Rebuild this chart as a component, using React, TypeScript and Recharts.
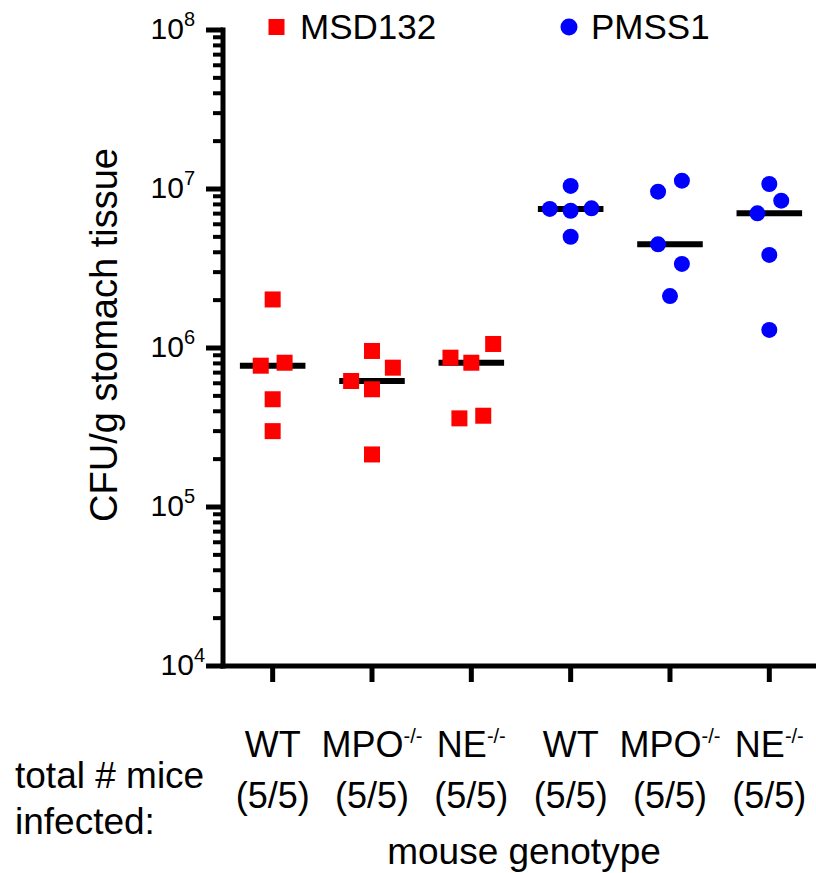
import React from 'react';
import { ScatterChart, Scatter, XAxis, YAxis, ReferenceLine, Customized } from 'recharts';

// ---- data ----
const seriesNames = ['MSD132', 'PMSS1'];
const seriesColors = ['#ff0000', '#0000ff'];
const groupLabels = ['WT', 'MPO', 'NE', 'WT', 'MPO', 'NE'];
const groupSuperscripts = ['', '-/-', '-/-', '', '-/-', '-/-'];
const infectedCounts = ['(5/5)', '(5/5)', '(5/5)', '(5/5)', '(5/5)', '(5/5)'];
const majorTicks = [1e4, 1e5, 1e6, 1e7, 1e8];
const minorMultipliers = [2, 3, 4, 5, 6, 7, 8, 9];

// CFU/g values per genotype group (MSD132: groups 0-2, PMSS1: groups 3-5)
const msd132Values = [
  [2.02e6, 7.74e5, 8.08e5, 4.76e5, 3.0e5],
  [6.2e5, 9.58e5, 7.52e5, 5.5e5, 2.14e5],
  [8.69e5, 8.08e5, 1.06e6, 3.61e5, 3.75e5],
];
const msd132Jitter = [
  [0, -0.12, 0.12, 0, 0],
  [-0.21, 0, 0.21, 0, 0],
  [-0.21, 0, 0.22, -0.12, 0.12],
];
const pmss1Values = [
  [1.045e7, 7.49e6, 7.3e6, 7.56e6, 5.01e6],
  [9.62e6, 1.128e7, 4.49e6, 3.38e6, 2.12e6],
  [1.075e7, 8.45e6, 7.03e6, 3.85e6, 1.3e6],
];
const pmss1Jitter = [
  [0, -0.21, 0, 0.21, 0],
  [-0.12, 0.12, -0.12, 0.12, 0],
  [0, 0.12, -0.12, 0, 0],
];

// ---- derived ----
const minorTicks = majorTicks.slice(0, -1).flatMap((d) => minorMultipliers.map((m) => m * d));
const allYTicks = [...majorTicks, ...minorTicks].sort((a, b) => a - b);

const buildPoints = (values: number[][], jitter: number[][], offset: number) =>
  values.flatMap((grp, g) => grp.map((v, k) => ({ x: g + offset + jitter[g][k], y: v })));

const median = (arr: number[]) => {
  const s = [...arr].sort((a, b) => a - b);
  return s[Math.floor(s.length / 2)];
};

const msdPoints = buildPoints(msd132Values, msd132Jitter, 0);
const pmsPoints = buildPoints(pmss1Values, pmss1Jitter, 3);
const medians = [...msd132Values, ...pmss1Values].map((g, i) => ({ x: i, y: median(g) }));

const FONT = '"Liberation Sans", Arial, Helvetica, sans-serif';
const MEDIAN_HALF = 0.33;

const SquareShape = (props: any) => {
  const { cx, cy } = props;
  return <rect x={cx - 8} y={cy - 8} width={16} height={16} fill={seriesColors[0]} />;
};
const CircleShape = (props: any) => {
  const { cx, cy } = props;
  return <circle cx={cx} cy={cy} r={8} fill={seriesColors[1]} />;
};

const YTick = (props: any) => {
  const { x, y, payload } = props;
  const v = payload.value;
  const isMajor = majorTicks.some((m) => Math.abs(m - v) / m < 1e-9);
  const len = isMajor ? 17 : 10;
  const exp = Math.round(Math.log10(v));
  const labelDx = v === majorTicks[0] ? 18 : 28;
  return (
    <g>
      <line x1={x} x2={x - len} y1={y} y2={y} stroke="#000" strokeWidth={isMajor ? 5 : 4} />
      {isMajor && (
        <text x={x - labelDx} y={y + 9} textAnchor="end" fontSize={30} fill="#000" fontFamily={FONT}>
          10
          <tspan dy={-13} fontSize={20}>
            {exp}
          </tspan>
        </text>
      )}
    </g>
  );
};

const XTick = (props: any) => {
  const { x, y, payload } = props;
  const i = Math.round(payload.value);
  const sup = groupSuperscripts[i];
  return (
    <g>
      <text x={x} y={y + 75} textAnchor="middle" fontSize={36} fill="#000" fontFamily={FONT}>
        {groupLabels[i]}
        {sup ? (
          <tspan dy={-14} fontSize={20}>
            {sup}
          </tspan>
        ) : null}
      </text>
      <text x={x} y={y + 126} textAnchor="middle" fontSize={36} fill="#000" fontFamily={FONT}>
        {infectedCounts[i]}
      </text>
    </g>
  );
};

const Overlay = () => (
  <g fontFamily={FONT} fill="#000">
    <rect x={268.5} y={19} width={16} height={16} fill={seriesColors[0]} />
    <text x={300} y={39} fontSize={35}>
      {seriesNames[0]}
    </text>
    <circle cx={569} cy={27} r={8.5} fill={seriesColors[1]} />
    <text x={591} y={39} fontSize={35}>
      {seriesNames[1]}
    </text>
    <text transform="rotate(-90)" x={-335} y={117} textAnchor="middle" fontSize={38}>
      CFU/g stomach tissue
    </text>
    <text x={15} y={788} fontSize={37}>
      total # mice
    </text>
    <text x={15} y={834} fontSize={37}>
      infected:
    </text>
    <text x={524} y={864} fontSize={37} textAnchor="middle">
      mouse genotype
    </text>
  </g>
);

export default function App() {
  return (
    <div
      style={{
        position: 'fixed',
        left: 0,
        top: 0,
        width: 816,
        height: 873,
        background: '#fff',
        fontFamily: FONT,
      }}
    >
      <ScatterChart width={816} height={873} margin={{ top: 30, right: 0, bottom: 0, left: 0 }}>
        <XAxis
          type="number"
          dataKey="x"
          domain={[-0.5, 5.47]}
          ticks={[0, 1, 2, 3, 4, 5]}
          interval={0}
          allowDataOverflow
          height={207}
          axisLine={{ stroke: '#000', strokeWidth: 5, strokeLinecap: 'square' }}
          tickLine={{ stroke: '#000', strokeWidth: 5 }}
          tickSize={16}
          tickMargin={0}
          tick={<XTick />}
        />
        <YAxis
          type="number"
          dataKey="y"
          scale="log"
          domain={[1e4, 1e8]}
          ticks={allYTicks}
          interval={0}
          allowDataOverflow
          width={223}
          axisLine={{ stroke: '#000', strokeWidth: 5, strokeLinecap: 'square' }}
          tickLine={false}
          tickSize={0}
          tickMargin={0}
          tick={<YTick />}
        />
        <Scatter name={seriesNames[0]} data={msdPoints} shape={<SquareShape />} isAnimationActive={false} />
        <Scatter name={seriesNames[1]} data={pmsPoints} shape={<CircleShape />} isAnimationActive={false} />
        {medians.map((m) => (
          <ReferenceLine
            key={m.x}
            segment={[
              { x: m.x - MEDIAN_HALF, y: m.y },
              { x: m.x + MEDIAN_HALF, y: m.y },
            ]}
            stroke="#000"
            strokeWidth={6}
            ifOverflow="visible"
          />
        ))}
        <Customized component={Overlay} />
      </ScatterChart>
    </div>
  );
}
